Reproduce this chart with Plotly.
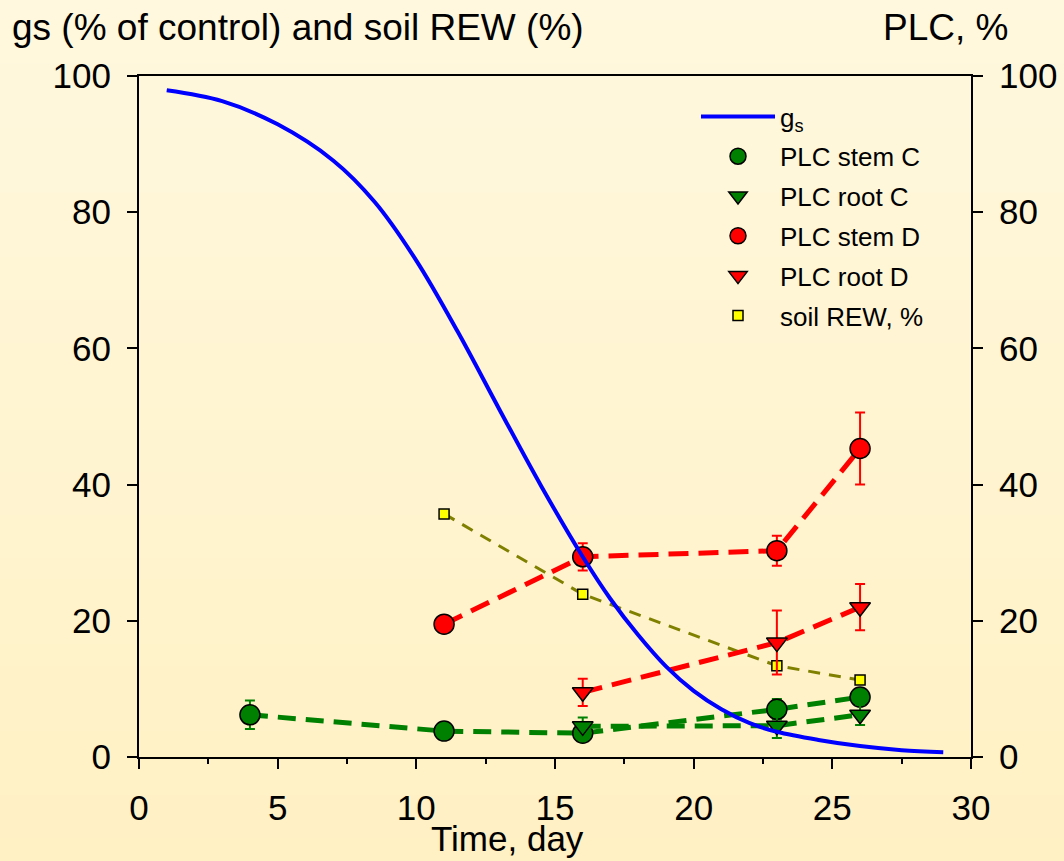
import plotly.graph_objects as go

# ---- data ----
gs_day = [1, 3, 5, 7, 8.5, 10, 11.5, 13, 14.5, 16, 17, 18, 19, 20, 21, 22, 23, 24.5, 26, 27.5, 29]
gs_val = [97.9, 96.3, 92.9, 87.6, 81.5, 72.9, 62.4, 51.0, 39.8, 29.4, 23.2, 17.9, 13.3, 9.7, 7.0, 5.0, 3.7, 2.5, 1.6, 1.0, 0.7]

stemC_day = [4, 11, 16, 23, 26]
stemC_val = [6.2, 3.8, 3.5, 7.0, 8.8]
stemC_err = [2.1, 0.4, 0.6, 1.5, 0.9]

rootC_day = [16, 23, 26]
rootC_val = [4.5, 4.6, 6.2]
rootC_err = [1.3, 1.8, 1.5]

stemD_day = [11, 16, 23, 26]
stemD_val = [19.5, 29.4, 30.3, 45.3]
stemD_err = [0.5, 2.0, 2.2, 5.3]

rootD_day = [16, 23, 26]
rootD_val = [9.5, 16.8, 22.0]
rootD_err = [2.0, 4.7, 3.4]

rew_day = [11, 16, 23, 26]
rew_val = [35.7, 23.9, 13.4, 11.3]

x_ticks = [0, 5, 10, 15, 20, 25, 30]
y_ticks = [0, 20, 40, 60, 80, 100]

FONT = "Liberation Sans, Arial, sans-serif"
W, H = 1064, 861
ML, MR, MT, MB = 139, 93, 76, 104
PW, PH = W - ML - MR, H - MT - MB

fig = go.Figure()

# --- visible data traces (no legend) ---
fig.add_trace(go.Scatter(
    x=rew_day, y=rew_val, yaxis="y", mode="lines+markers", showlegend=False,
    line=dict(color="#808000", width=3, dash="12px,9px"),
    marker=dict(symbol="square", size=10, color="#FFFF00", line=dict(color="black", width=1.5))))

plc_series = [
    (stemC_day, stemC_val, stemC_err, "PLC stem C", "circle", "#008000", "18px,10px", 20),
    (rootC_day, rootC_val, rootC_err, "PLC root C", "triangle-down", "#008000", "18px,10px", 18),
    (stemD_day, stemD_val, stemD_err, "PLC stem D", "circle", "#FF0000", "20px,10px", 20),
    (rootD_day, rootD_val, rootD_err, "PLC root D", "triangle-down", "#FF0000", "20px,10px", 18),
]
for x, y, e, name, sym, col, dash, size in plc_series:
    fig.add_trace(go.Scatter(
        x=x, y=y, yaxis="y2", mode="lines+markers", showlegend=False,
        line=dict(color=col, width=5, dash=dash),
        marker=dict(symbol=sym, size=size, color=col, line=dict(color="black", width=1.5)),
        error_y=dict(type="data", array=e, color=col, thickness=2, width=5)))

fig.add_trace(go.Scatter(
    x=gs_day, y=gs_val, yaxis="y2", mode="lines", showlegend=False,
    line=dict(color="#0000FF", width=4, shape="spline", smoothing=1.0)))

# --- legend entries ---
fig.add_trace(go.Scatter(x=[None], y=[None], yaxis="y2", mode="lines", name="g<sub>s</sub>",
                         line=dict(color="#0000FF", width=4), legendgroup="g1", legendrank=1))
for i, (x, y, e, name, sym, col, dash, size) in enumerate(plc_series):
    fig.add_trace(go.Scatter(x=[None], y=[None], yaxis="y2", mode="markers", name=name,
                             marker=dict(symbol=sym, size=size, color=col, line=dict(color="black", width=1.5)),
                             legendgroup="g%d" % (i + 2), legendrank=i + 2))
fig.add_trace(go.Scatter(x=[None], y=[None], yaxis="y", mode="markers", name="soil REW, %",
                         marker=dict(symbol="square", size=10, color="#FFFF00", line=dict(color="black", width=1.5)),
                         legendgroup="g6", legendrank=6))

# background gradient bands (paper)
shapes = []
n = 40
top = (255, 248, 222)
bot = (255, 241, 196)
for i in range(n):
    t = i / (n - 1)
    c = tuple(round(top[k] + (bot[k] - top[k]) * t) for k in range(3))
    y0 = 1 + MT / PH - (i / n) * (H / PH)
    y1 = 1 + MT / PH - ((i + 1) / n) * (H / PH)
    shapes.append(dict(type="rect", xref="paper", yref="paper", layer="below",
                       x0=-ML / PW, x1=1 + MR / PW, y0=y1 - 0.002, y1=y0 + 0.002,
                       fillcolor="rgb(%d,%d,%d)" % c, line=dict(width=0)))

axis_common = dict(showgrid=False, zeroline=False, linecolor="black", linewidth=2,
                   ticks="outside", ticklen=10, tickwidth=1.5, tickcolor="black", automargin=False,
                   tickfont=dict(family=FONT, size=35, color="black"))

fig.update_layout(
    width=W, height=H, autosize=False,
    margin=dict(l=ML, r=MR, t=MT, b=MB, autoexpand=False),
    paper_bgcolor="#FFF3CC", plot_bgcolor="#EEEEEE",
    shapes=shapes,
    font=dict(family=FONT, color="black"),
    xaxis=dict(range=[0, 30], tickvals=x_ticks, mirror=True, ticklabelstandoff=9,
               minor=dict(ticks="outside", ticklen=5, tickwidth=1.5, tickcolor="black", dtick=2.5),
               **axis_common),
    yaxis=dict(range=[0, 100], tickvals=y_ticks, ticklabelstandoff=9, **axis_common),
    yaxis2=dict(range=[0, 100], tickvals=y_ticks, overlaying="y", side="right",
                ticklabelstandoff=9, **axis_common),
    showlegend=True,
    legend=dict(x=(696 - ML) / PW, y=(H - MB - 93) / PH,
                xanchor="left", yanchor="top", bgcolor="rgba(0,0,0,0)",
                tracegroupgap=3,
                font=dict(family=FONT, size=26, color="black"), itemwidth=74),
    annotations=[
        dict(text="gs (% of control) and soil REW (%)", xref="paper", yref="paper",
             x=-(ML - 10) / PW, y=1 + (MT - 27) / PH,
             xanchor="left", yanchor="middle", showarrow=False,
             font=dict(family=FONT, size=37, color="black")),
        dict(text="PLC, %", xref="paper", yref="paper",
             x=1 + (1010 - (W - MR)) / PW, y=1 + (MT - 27) / PH,
             xanchor="right", yanchor="middle", showarrow=False,
             font=dict(family=FONT, size=37, color="black")),
        dict(text="Time, day", xref="paper", yref="paper",
             x=(507 - ML) / PW, y=-(838 - (H - MB)) / PH,
             xanchor="center", yanchor="middle", showarrow=False,
             font=dict(family=FONT, size=35, color="black")),
    ],
)

fig.write_html("out.html",
               config={"responsive": False, "displayModeBar": False},
               post_script="document.body.style.margin='0px';document.body.style.overflow='hidden';")
